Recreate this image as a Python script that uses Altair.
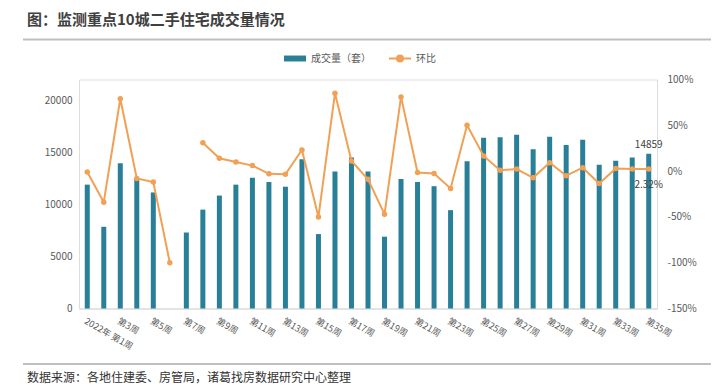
import json
import altair as alt
import pandas as pd

title_text = "图：监测重点10城二手住宅成交量情况"
source_text = "数据来源：各地住建委、房管局，诸葛找房数据研究中心整理"

weeks = ["2022年第1周", "第2周", "第3周", "第4周", "第5周", "第6周", "第7周", "第8周",
         "第9周", "第10周", "第11周", "第12周", "第13周", "第14周", "第15周", "第16周",
         "第17周", "第18周", "第19周", "第20周", "第21周", "第22周", "第23周", "第24周",
         "第25周", "第26周", "第27周", "第28周", "第29周", "第30周", "第31周", "第32周",
         "第33周", "第34周", "第35周"]
tick_labels = ["2022年第1周", "第3周", "第5周", "第7周", "第9周", "第11周", "第13周",
               "第15周", "第17周", "第19周", "第21周", "第23周", "第25周", "第27周",
               "第29周", "第31周", "第33周", "第35周"]

volume = [11900, 7850, 13950, 12450, 11150, 0, 7300, 9500, 10850, 11900, 12550, 12150,
          11700, 14350, 7150, 13150, 14500, 13150, 6900, 12450, 12150, 11750, 9450, 14150,
          16400, 16450, 16700, 15300, 16500, 15700, 16200, 13800, 14200, 14500, 14859]
ring = [-0.01, -0.34, 0.79, -0.08, -0.12, -1.0, None, 0.31, 0.14, 0.10, 0.06, -0.03,
        -0.035, 0.23, -0.50, 0.85, 0.11, -0.09, -0.47, 0.81, -0.015, -0.026, -0.19, 0.50,
        0.165, 0.01, 0.022, -0.073, 0.092, -0.05, 0.037, -0.136, 0.029, 0.022, 0.0232]
segment = ["A"] * 6 + ["B"] * 29

BAR = "#2A7F98"
ORANGE = "#F0A155"
TXT = "#595959"
FONT = "Noto Sans CJK SC"

df = pd.DataFrame({"week": weeks, "volume": volume, "ring": ring, "seg": segment})

label_expr = ("indexof(" + json.dumps(tick_labels, ensure_ascii=False) +
              ", datum.value) < 0 ? '' : (datum.value == '2022年第1周' ? '2022年 第1周' : datum.value)")

x = alt.X("week:N", sort=weeks,
          scale=alt.Scale(paddingInner=0, paddingOuter=0),
          axis=alt.Axis(title=None, labelAngle=30, labelAlign="left", labelBaseline="top",
                        labelExpr=label_expr, ticks=False, domainColor="#D9D9D9",
                        labelFontSize=9, labelColor=TXT, labelFont=FONT, labelPadding=8,
                        labelOverlap=False))

base = alt.Chart(df)

bars = base.transform_calculate(s="'成交量（套）'").mark_bar(size=5).encode(
    x=x,
    y=alt.Y("volume:Q", scale=alt.Scale(domain=[0, 22000], nice=False),
            axis=alt.Axis(title=None, values=[0, 5000, 10000, 15000, 20000], format="d",
                          domain=False, ticks=False, grid=False, labelPadding=7,
                          labelFontSize=10, labelColor=TXT, labelFont=FONT)),
    fill=alt.Fill("s:N", scale=alt.Scale(domain=["成交量（套）"], range=[BAR]),
                  legend=alt.Legend(title=None, orient="none", legendX=204, legendY=-33,
                                    symbolType="M-1,-0.27H1V0.27H-1Z", symbolSize=484,
                                    labelFont=FONT, labelFontSize=10, labelColor=TXT)),
)
bar_label = base.transform_filter(alt.datum.week == "第35周").mark_text(
    dy=-9, fontSize=10, color="#404040", font=FONT).encode(
    x=x, y=alt.Y("volume:Q"), text=alt.Text("volume:Q", format="d"))

left = alt.layer(bars, bar_label)

yr = alt.Y("ring:Q", scale=alt.Scale(domain=[-1.5, 1.0], nice=False),
           axis=alt.Axis(title=None, orient="right", values=[-1.5, -1, -0.5, 0, 0.5, 1],
                         labelExpr="toString(round(datum.value*100)) + '%'",
                         domain=False, ticks=False, grid=False, labelPadding=10,
                         labelFontSize=10, labelColor=TXT, labelFont=FONT))

line = base.transform_filter("isValid(datum.ring)").transform_calculate(s2="'环比'").mark_line(
    strokeWidth=2).encode(
    x=x, y=yr, detail="seg:N",
    stroke=alt.Stroke("s2:N", scale=alt.Scale(domain=["环比"], range=[ORANGE]),
                      legend=alt.Legend(title=None, orient="none", legendX=309, legendY=-33,
                                        symbolType="M-1,0H-0.27A0.27,0.27 0 1,1 0.27,0H1M0.27,0A0.27,0.27 0 1,1 -0.27,0",
                                        symbolSize=484, symbolStrokeWidth=2,
                                        symbolFillColor=ORANGE,
                                        labelFont=FONT, labelFontSize=10, labelColor=TXT)),
)
points = base.transform_filter("isValid(datum.ring)").mark_circle(
    size=30, color=ORANGE, opacity=1).encode(x=x, y=alt.Y("ring:Q"))
ring_label = base.transform_filter(alt.datum.week == "第35周").transform_calculate(
    lab="format(datum.ring, '.2%')").mark_text(
    dy=16, fontSize=10, color="#404040", font=FONT).encode(
    x=x, y=alt.Y("ring:Q"), text="lab:N")

right = alt.layer(line, points, ring_label)

tdf = pd.DataFrame({"t": [title_text]})
sdf = pd.DataFrame({"t": [source_text]})
title = alt.Chart(tdf).mark_text(align="left", baseline="middle", fontSize=15,
                                 fontWeight="bold", color="#404040", font=FONT).encode(
    text="t:N", x=alt.value(-52), y=alt.value(-59.5))
source = alt.Chart(sdf).mark_text(align="left", baseline="middle", fontSize=12,
                                  color="#333333", font=FONT).encode(
    text="t:N", x=alt.value(-52), y=alt.value(298.5))
top_rule = alt.Chart(tdf).mark_rule(color="#BFBFBF", strokeWidth=2).encode(
    x=alt.value(-56), x2=alt.value(640), y=alt.value(-40))
bottom_rule = alt.Chart(tdf).mark_rule(color="#BFBFBF", strokeWidth=2).encode(
    x=alt.value(-56), x2=alt.value(640), y=alt.value(284.5))

chart = alt.layer(left, right, title, source, top_rule, bottom_rule).resolve_scale(
    y="independent"
).properties(
    width=578, height=229,
    autosize=alt.AutoSizeParams(type="none"),
    padding={"left": 71, "top": 71.5, "right": 54, "bottom": 75.5},
).configure_view(stroke=None).configure(background="white")

chart.save("out.html", embed_options={"renderer": "svg", "actions": False})
